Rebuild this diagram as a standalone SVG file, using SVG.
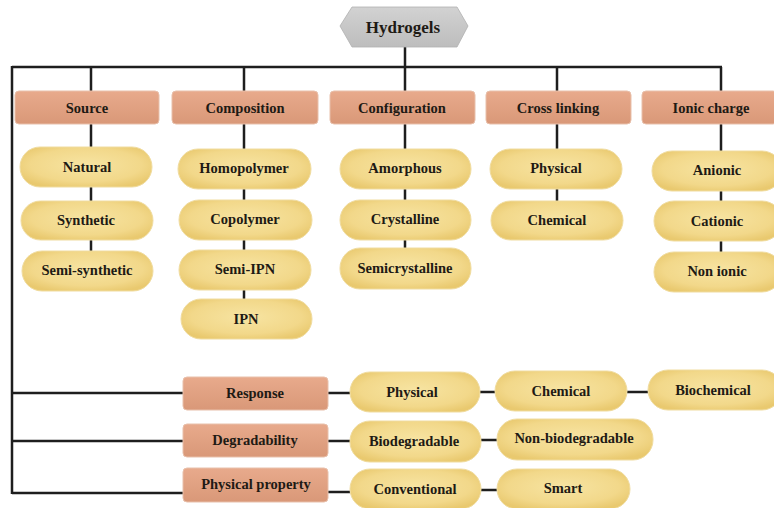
<svg xmlns="http://www.w3.org/2000/svg" width="774" height="508" viewBox="0 0 774 508">
<defs>
<linearGradient id="gBox" x1="0" y1="0" x2="0" y2="1">
<stop offset="0" stop-color="#e8aa8c"/>
<stop offset="1" stop-color="#d99878"/>
</linearGradient>
<radialGradient id="gPill" cx="0.5" cy="0.45" r="0.6">
<stop offset="0" stop-color="#f7e4a2"/>
<stop offset="0.7" stop-color="#f2d88a"/>
<stop offset="1" stop-color="#e9c96f"/>
</radialGradient>
<linearGradient id="gHex" x1="0" y1="0" x2="0" y2="1">
<stop offset="0" stop-color="#d2d2d2"/>
<stop offset="1" stop-color="#bdbdbd"/>
</linearGradient>
</defs>
<style>
.box{fill:url(#gBox);stroke:#e8c0ab;stroke-width:1}
.pill{fill:url(#gPill);stroke:#f0dca0;stroke-width:1}
.t{font-family:"Liberation Serif","Times New Roman",serif;font-weight:bold;font-size:14.5px;fill:#1e1a14;text-anchor:middle;dominant-baseline:central}
.c{stroke:#1e1e1e;stroke-width:2.5;fill:none}
</style>
<rect width="774" height="508" fill="#ffffff"/>
<g id="connectors">
<path class="c" d="M405 47V67M12 67H722M12 66V494M91 67V91M244 67V91M405 67V91M557 67V91M721 67V91"/>
<path class="c" d="M91 124V147M91 187V201M91 240V251"/>
<path class="c" d="M244 124V149M244 189V200M244 240V250M244 290V299"/>
<path class="c" d="M405 124V149M405 189V200M405 240V248"/>
<path class="c" d="M557 124V149M557 189V201"/>
<path class="c" d="M721 124V151M721 191V201M721 241V252"/>
<path class="c" d="M12 393H183M12 441H183M12 493H183"/>
<path class="c" d="M328 393H350M480 392H495M627 392H648"/>
<path class="c" d="M328 441H350M481 440H497"/>
<path class="c" d="M328 492H350M481 490H497"/>
</g>
<g id="hydrogels">
<polygon points="340,26 352,7 457,7 468,26 457,47 352,47" fill="url(#gHex)" stroke="#b0b0b0" stroke-width="0.8"/>
<text class="t" x="403" y="27" style="font-size:17px">Hydrogels</text>
</g>
<g id="source"><rect class="box" x="15" y="91" width="144" height="33" rx="4"/><text class="t" x="87" y="108">Source</text></g>
<g id="composition"><rect class="box" x="172" y="91" width="146" height="33" rx="4"/><text class="t" x="245" y="108">Composition</text></g>
<g id="configuration"><rect class="box" x="330" y="91" width="145" height="33" rx="4"/><text class="t" x="402" y="108">Configuration</text></g>
<g id="crosslinking"><rect class="box" x="486" y="91" width="145" height="33" rx="4"/><text class="t" x="558" y="108">Cross linking</text></g>
<g id="ionic"><rect class="box" x="642" y="91" width="135" height="33" rx="4"/><text class="t" x="711" y="108">Ionic charge</text></g>

<g id="natural"><rect class="pill" x="20" y="147" width="132" height="40" rx="20"/><text class="t" x="87" y="167">Natural</text></g>
<g id="synthetic"><rect class="pill" x="21" y="201" width="132" height="39" rx="19.5"/><text class="t" x="86" y="220">Synthetic</text></g>
<g id="semisynthetic"><rect class="pill" x="22" y="251" width="131" height="40" rx="20"/><text class="t" x="87" y="270">Semi-synthetic</text></g>

<g id="homopolymer"><rect class="pill" x="178" y="149" width="133" height="40" rx="20"/><text class="t" x="244" y="168">Homopolymer</text></g>
<g id="copolymer"><rect class="pill" x="179" y="200" width="133" height="40" rx="20"/><text class="t" x="245" y="219">Copolymer</text></g>
<g id="semiipn"><rect class="pill" x="179" y="250" width="132" height="40" rx="20"/><text class="t" x="245" y="269">Semi-IPN</text></g>
<g id="ipn"><rect class="pill" x="181" y="299" width="131" height="40" rx="20"/><text class="t" x="246" y="319">IPN</text></g>

<g id="amorphous"><rect class="pill" x="340" y="149" width="131" height="40" rx="20"/><text class="t" x="405" y="168">Amorphous</text></g>
<g id="crystalline"><rect class="pill" x="340" y="200" width="131" height="40" rx="20"/><text class="t" x="405" y="219">Crystalline</text></g>
<g id="semicrystalline"><rect class="pill" x="340" y="248" width="131" height="41" rx="20"/><text class="t" x="405" y="268">Semicrystalline</text></g>

<g id="physical1"><rect class="pill" x="490" y="149" width="132" height="40" rx="20"/><text class="t" x="556" y="168">Physical</text></g>
<g id="chemical1"><rect class="pill" x="491" y="201" width="132" height="39" rx="19.5"/><text class="t" x="557" y="220">Chemical</text></g>

<g id="anionic"><rect class="pill" x="652" y="151" width="130" height="40" rx="20"/><text class="t" x="717" y="170">Anionic</text></g>
<g id="cationic"><rect class="pill" x="654" y="201" width="128" height="40" rx="20"/><text class="t" x="717" y="221">Cationic</text></g>
<g id="nonionic"><rect class="pill" x="654" y="252" width="128" height="40" rx="20"/><text class="t" x="717" y="271">Non ionic</text></g>

<g id="response"><rect class="box" x="183" y="377" width="145" height="33" rx="4"/><text class="t" x="255" y="393">Response</text></g>
<g id="degradability"><rect class="box" x="183" y="424" width="145" height="33" rx="4"/><text class="t" x="255" y="440">Degradability</text></g>
<g id="physprop"><rect class="box" x="183" y="468" width="145" height="34" rx="4"/><text class="t" x="256" y="484">Physical property</text></g>

<g id="physical2"><rect class="pill" x="350" y="372" width="130" height="40" rx="20"/><text class="t" x="412" y="392">Physical</text></g>
<g id="chemical2"><rect class="pill" x="495" y="371" width="132" height="40" rx="20"/><text class="t" x="561" y="391">Chemical</text></g>
<g id="biochemical"><rect class="pill" x="648" y="370" width="134" height="40" rx="20"/><text class="t" x="713" y="390">Biochemical</text></g>

<g id="biodegradable"><rect class="pill" x="350" y="421" width="131" height="41" rx="20"/><text class="t" x="414" y="441">Biodegradable</text></g>
<g id="nonbiodegradable"><rect class="pill" x="497" y="419" width="156" height="41" rx="20"/><text class="t" x="574" y="438">Non-biodegradable</text></g>

<g id="conventional"><rect class="pill" x="350" y="469" width="131" height="40" rx="20"/><text class="t" x="415" y="489">Conventional</text></g>
<g id="smart"><rect class="pill" x="497" y="469" width="133" height="40" rx="20"/><text class="t" x="563" y="488">Smart</text></g>
</svg>
